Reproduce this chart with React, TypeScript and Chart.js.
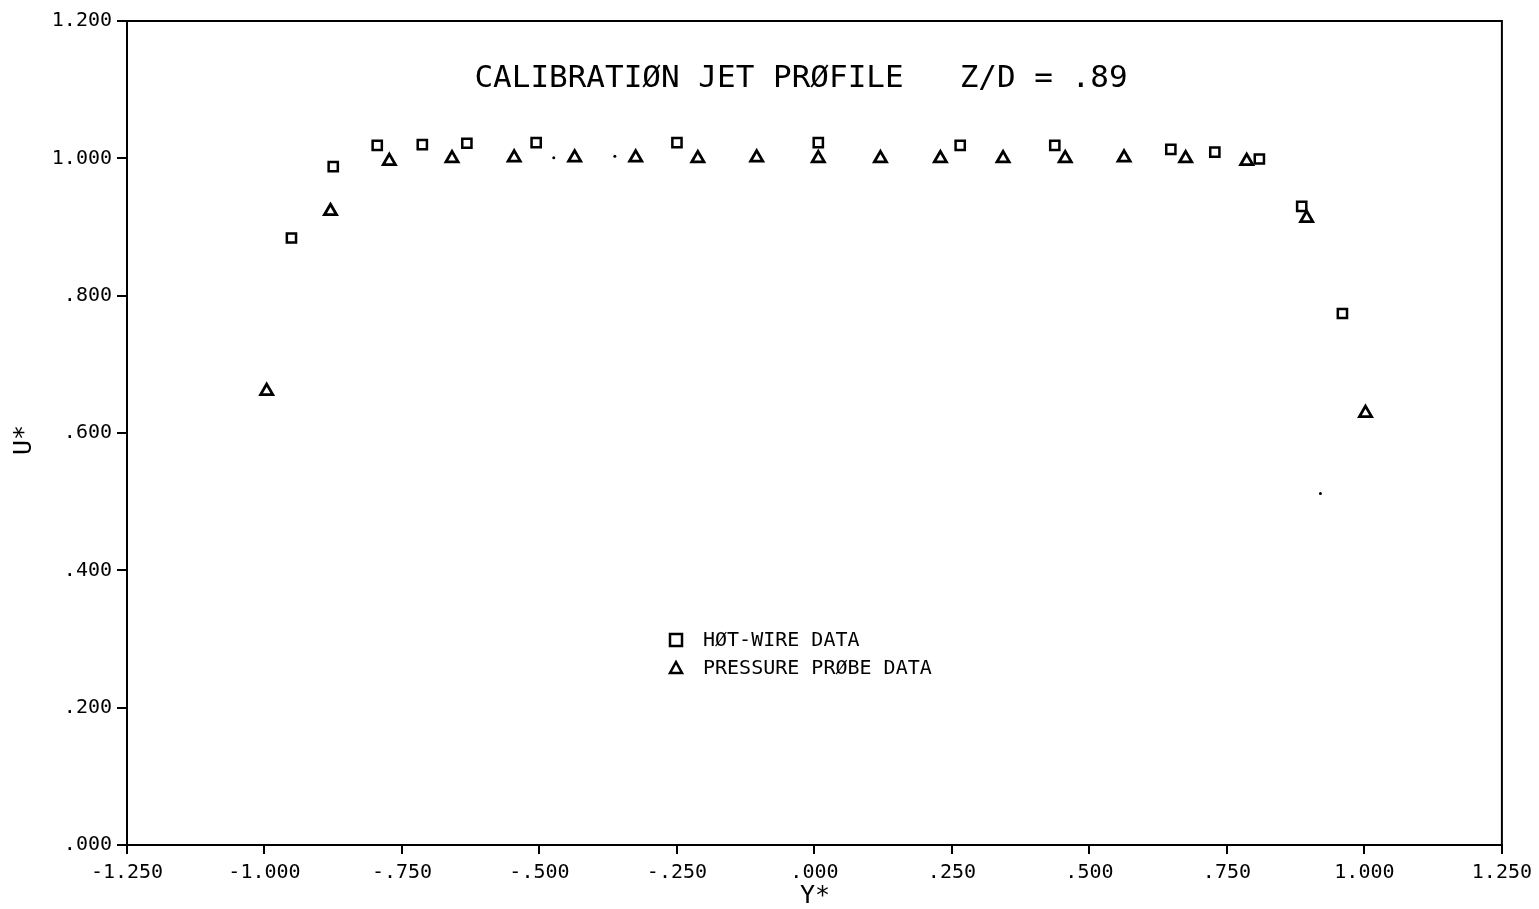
import React, { useEffect, useRef } from "react";
import { Chart, registerables } from "chart.js";

Chart.register(...registerables);

// Hot-wire data (squares)
const hotWireY = [-0.951, -0.875, -0.795, -0.713, -0.632, -0.506, -0.25, 0.007, 0.265, 0.437, 0.648, 0.728, 0.809, 0.886, 0.96];
const hotWireU = [0.884, 0.988, 1.019, 1.02, 1.022, 1.023, 1.023, 1.023, 1.019, 1.019, 1.013, 1.009, 0.999, 0.93, 0.774];

// Pressure probe data (triangles)
const probeY = [-0.996, -0.88, -0.773, -0.659, -0.546, -0.436, -0.325, -0.212, -0.105, 0.007, 0.12, 0.229, 0.343, 0.456, 0.563, 0.675, 0.786, 0.895, 1.002];
const probeU = [0.661, 0.923, 0.996, 1.0, 1.001, 1.001, 1.001, 1.0, 1.001, 1.0, 1.0, 1.0, 1.0, 1.0, 1.001, 1.0, 0.996, 0.913, 0.629];

// Small stray marks on the original plot
const strayY = [-0.474, -0.363, 0.92];
const strayU = [1.001, 1.003, 0.512];

const xTicks = [-1.25, -1.0, -0.75, -0.5, -0.25, 0, 0.25, 0.5, 0.75, 1.0, 1.25];
const yTicks = [0, 0.2, 0.4, 0.6, 0.8, 1.0, 1.2];

const titleText = "CALIBRATIØN JET PRØFILE   Z/D = .89";
const legendLabels = ["HØT-WIRE DATA", "PRESSURE PRØBE DATA"];
const xTitle = "Y*";
const yTitle = "U*";

const FONT = "'DejaVu Sans Mono', monospace";

function fmt(v: number): string {
  let s = Math.abs(v).toFixed(3);
  if (s.startsWith("0")) s = s.slice(1);
  return (v < 0 ? "-" : "") + s;
}

const W = 1539;
const H = 909;
const LEFT = 127;
const RIGHT = 1502;
const TOP = 21;
const BOTTOM = 845;

export default function App() {
  const ref = useRef<HTMLCanvasElement | null>(null);

  useEffect(() => {
    document.body.style.margin = "0";
    const canvas = ref.current;
    if (!canvas) return;

    const overlay = {
      id: "overlay",
      afterDraw(chart: any) {
        const ctx = chart.ctx;
        const ca = chart.chartArea;
        ctx.save();
        ctx.strokeStyle = "#000";
        ctx.lineWidth = 2;
        ctx.strokeRect(ca.left, ca.top, ca.right - ca.left, ca.bottom - ca.top);

        ctx.fillStyle = "#000";
        ctx.textBaseline = "middle";
        ctx.textAlign = "center";
        ctx.font = `31px ${FONT}`;
        ctx.fillText(titleText, 801, 79);

        // legend
        ctx.font = `20px ${FONT}`;
        ctx.textAlign = "left";
        const lx = 676;
        const ly = [640, 668];
        ctx.lineWidth = 2.5;
        ctx.strokeRect(lx - 6, ly[0] - 6, 12, 12);
        ctx.beginPath();
        ctx.moveTo(lx, ly[1] - 6);
        ctx.lineTo(lx + 6, ly[1] + 5);
        ctx.lineTo(lx - 6, ly[1] + 5);
        ctx.closePath();
        ctx.stroke();
        ctx.fillText(legendLabels[0], 703, ly[0] + 1);
        ctx.fillText(legendLabels[1], 703, ly[1] + 1);

        // axis titles
        ctx.font = `25px ${FONT}`;
        ctx.textAlign = "center";
        ctx.fillText(xTitle, 815, 896);
        ctx.save();
        ctx.translate(24, 440);
        ctx.rotate(-Math.PI / 2);
        ctx.fillText(yTitle, 0, 0);
        ctx.restore();
        ctx.restore();
      },
    };

    const chart = new Chart(canvas, {
      type: "scatter",
      data: {
        datasets: [
          {
            label: legendLabels[0],
            data: hotWireY.map((x, i) => ({ x, y: hotWireU[i] })),
            pointStyle: "rect",
            pointRadius: 6.5,
            borderColor: "#000",
            backgroundColor: "rgba(0,0,0,0)",
            borderWidth: 2.5,
          },
          {
            label: legendLabels[1],
            data: probeY.map((x, i) => ({ x, y: probeU[i] })),
            pointStyle: "triangle",
            pointRadius: 7,
            borderColor: "#000",
            backgroundColor: "rgba(0,0,0,0)",
            borderWidth: 2.8,
          },
          {
            label: "stray",
            data: strayY.map((x, i) => ({ x, y: strayU[i] })),
            pointStyle: "circle",
            pointRadius: 1.5,
            borderColor: "#000",
            backgroundColor: "#000",
            borderWidth: 0,
          },
        ],
      },
      options: {
        responsive: false,
        animation: false,
        layout: { padding: { left: 0, right: W - RIGHT, top: TOP, bottom: 0 } },
        plugins: {
          legend: { display: false },
          title: { display: false },
          tooltip: { enabled: false },
        },
        scales: {
          x: {
            type: "linear",
            min: -1.25,
            max: 1.25,
            afterBuildTicks: (s: any) => {
              s.ticks = xTicks.map((v) => ({ value: v }));
            },
            afterFit: (s: any) => {
              s.height = H - BOTTOM;
            },
            ticks: {
              callback: (v: any) => fmt(Number(v)),
              color: "#000",
              font: { family: FONT, size: 20 },
              padding: 7,
              maxRotation: 0,
              autoSkip: false,
            },
            grid: {
              drawOnChartArea: false,
              drawTicks: true,
              tickLength: 9,
              color: "#000",
              lineWidth: 2,
            },
            border: { display: true, color: "#000", width: 2 },
          },
          y: {
            type: "linear",
            min: 0,
            max: 1.2,
            afterBuildTicks: (s: any) => {
              s.ticks = yTicks.map((v) => ({ value: v }));
            },
            afterFit: (s: any) => {
              s.width = LEFT;
            },
            ticks: {
              callback: (v: any) => fmt(Number(v)),
              color: "#000",
              font: { family: FONT, size: 20 },
              padding: 5,
              autoSkip: false,
            },
            grid: {
              drawOnChartArea: false,
              drawTicks: true,
              tickLength: 10,
              color: "#000",
              lineWidth: 2,
            },
            border: { display: true, color: "#000", width: 2 },
          },
        },
      },
      plugins: [overlay],
    });

    return () => chart.destroy();
  }, []);

  return (
    <div style={{ width: W, height: H, background: "#fff" }}>
      <canvas ref={ref} width={W} height={H} style={{ display: "block" }} />
    </div>
  );
}
